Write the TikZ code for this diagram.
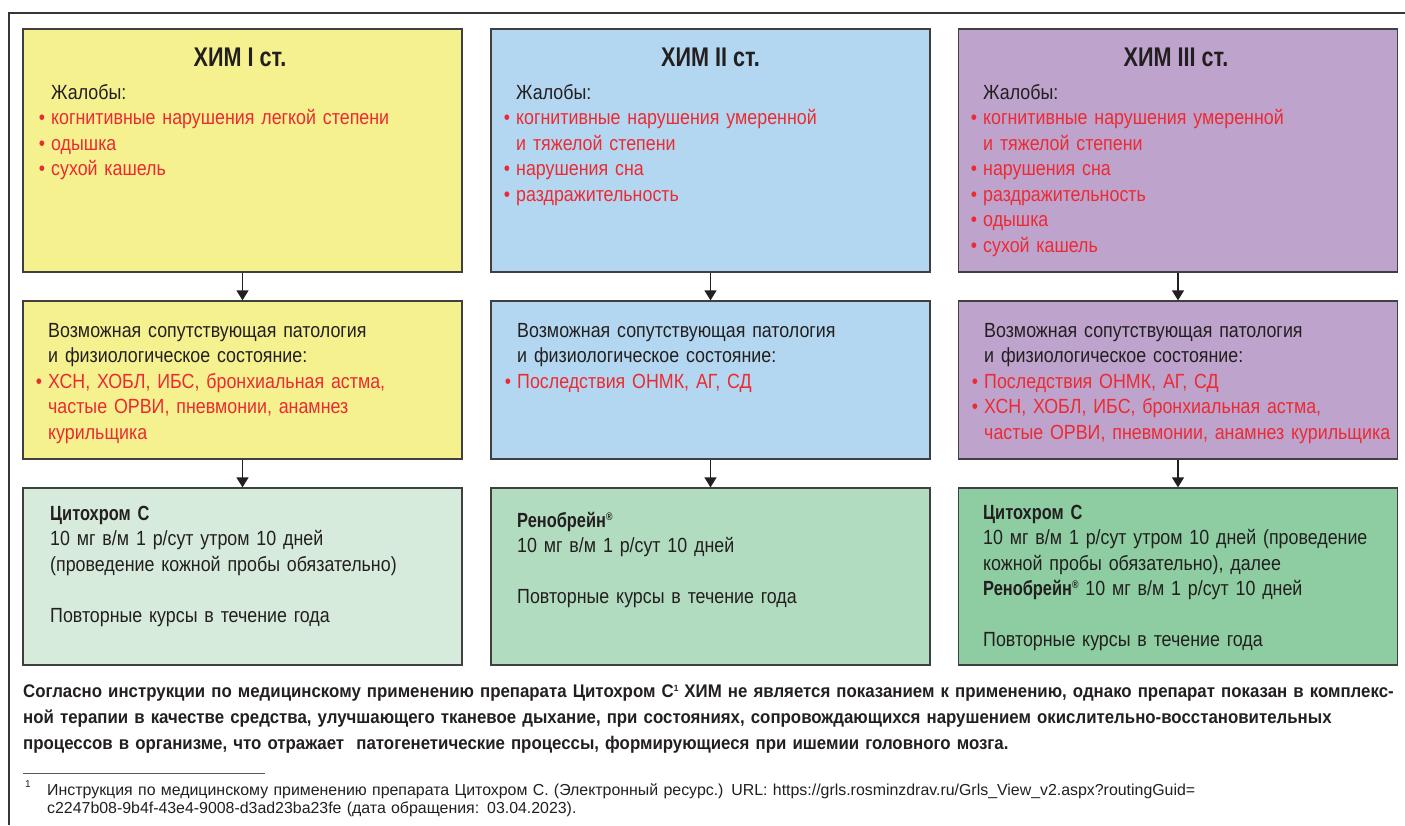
\documentclass[tikz,border=0pt]{standalone}
\usepackage{fontspec}
\setmainfont{Liberation Sans}[FakeStretch=0.87, BoldFeatures={FakeStretch=0.8}]
\newfontfamily\footfont{Liberation Sans}[FakeStretch=1.0, BoldFeatures={FakeStretch=0.92}]
\usetikzlibrary{arrows.meta}
\definecolor{cyel}{HTML}{F6F18F}
\definecolor{cblue}{HTML}{B3D7F0}
\definecolor{cpur}{HTML}{BEA3CD}
\definecolor{cgra}{HTML}{D7EBDC}
\definecolor{cgrb}{HTML}{B2DCC0}
\definecolor{cgrc}{HTML}{8DCDA1}
\definecolor{cred}{HTML}{EC2A33}
\definecolor{ctext}{HTML}{231F20}
\definecolor{cborder}{HTML}{404040}
\newcommand\redb[1]{\leavevmode\llap{\textcolor{cred}{•}\hspace{6pt}}\textcolor{cred}{#1}}
\newcommand\redc[1]{\textcolor{cred}{#1}}
\newcommand\regm{\raisebox{7pt}{\fontsize{11}{11}\selectfont ®}}
\tikzset{
  box/.style={draw=cborder, line width=1.3pt, inner sep=0pt, minimum width=439pt},
  txt/.style={anchor=base west, align=left, inner sep=0pt, text width=430pt,
    font=\fontsize{20.5}{25.5}\selectfont, text=ctext},
  ttl/.style={anchor=base, inner sep=0pt, font=\fontsize{27}{30}\selectfont\bfseries, text=ctext},
  arr/.style={-{Triangle[width=12pt,length=10pt]}, line width=1.4pt, draw=ctext},
  foot/.style={anchor=base west, align=left, inner sep=0pt, text width=1390pt, text=ctext},
}
\begin{document}
\begin{tikzpicture}[x=1pt,y=-1pt]
\useasboundingbox (0,0) rectangle (1405,825);
\fill[white] (0,0) rectangle (1405,825);
\draw[line width=2pt, draw=ctext!90] (9,825) -- (9,13) -- (1405,13);

% boxes
\node[box, fill=cyel,  minimum height=243pt] (b11) at (242.5,150.5) {};
\node[box, fill=cblue, minimum height=243pt] (b12) at (710.5,150.5) {};
\node[box, fill=cpur,  minimum height=243pt] (b13) at (1178,150.5) {};
\node[box, fill=cyel,  minimum height=158pt] (b21) at (242.5,380) {};
\node[box, fill=cblue, minimum height=158pt] (b22) at (710.5,380) {};
\node[box, fill=cpur,  minimum height=158pt] (b23) at (1178,380) {};
\node[box, fill=cgra,  minimum height=177pt] (b31) at (242.5,576.5) {};
\node[box, fill=cgrb,  minimum height=177pt] (b32) at (710.5,576.5) {};
\node[box, fill=cgrc,  minimum height=177pt] (b33) at (1178,576.5) {};

% arrows
\draw[arr] (b11.south) -- (b21.north);
\draw[arr] (b12.south) -- (b22.north);
\draw[arr] (b13.south) -- (b23.north);
\draw[arr] (b21.south) -- (b31.north);
\draw[arr] (b22.south) -- (b32.north);
\draw[arr] (b23.south) -- (b33.north);

% titles
\node[ttl] (t1) at (240,66) {ХИМ I ст.};
\node[ttl] (t2) at (710.5,66) {ХИМ II ст.};
\node[ttl] (t3) at (1176,66) {ХИМ III ст.};

% row 1
\node[txt] (c11) at (51,99) {Жалобы:\\
\redb{когнитивные нарушения легкой степени}\\
\redb{одышка}\\
\redb{сухой кашель}};
\node[txt] (c12) at (516,99) {Жалобы:\\
\redb{когнитивные нарушения умеренной}\\
\redc{и тяжелой степени}\\
\redb{нарушения сна}\\
\redb{раздражительность}};
\node[txt] (c13) at (983,99) {Жалобы:\\
\redb{когнитивные нарушения умеренной}\\
\redc{и тяжелой степени}\\
\redb{нарушения сна}\\
\redb{раздражительность}\\
\redb{одышка}\\
\redb{сухой кашель}};

% row 2
\node[txt] (c21) at (48,337) {Возможная сопутствующая патология\\
и физиологическое состояние:\\
\redb{ХСН, ХОБЛ, ИБС, бронхиальная астма,}\\
\redc{частые ОРВИ, пневмонии, анамнез}\\
\redc{курильщика}};
\node[txt] (c22) at (517,337) {Возможная сопутствующая патология\\
и физиологическое состояние:\\
\redb{Последствия ОНМК, АГ, СД}};
\node[txt] (c23) at (984,337) {Возможная сопутствующая патология\\
и физиологическое состояние:\\
\redb{Последствия ОНМК, АГ, СД}\\
\redb{ХСН, ХОБЛ, ИБС, бронхиальная астма,}\\
\redc{частые ОРВИ, пневмонии, анамнез курильщика}};

% row 3
\node[txt] (c31) at (50,520) {\textbf{Цитохром С}\\
10 мг в/м 1 р/сут утром 10 дней\\
(проведение кожной пробы обязательно)\\[25.5pt]
Повторные курсы в течение года};
\node[txt] (c32) at (517,527) {\textbf{Ренобрейн\regm}\\
10 мг в/м 1 р/сут 10 дней\\[25.5pt]
Повторные курсы в течение года};
\node[txt] (c33) at (983,519) {\textbf{Цитохром С}\\
10 мг в/м 1 р/сут утром 10 дней (проведение\\
кожной пробы обязательно), далее\\
\textbf{Ренобрейн\regm} 10 мг в/м 1 р/сут 10 дней\\[25.5pt]
Повторные курсы в течение года};

% footer
\node[foot, font=\footfont\fontsize{18.3}{26}\selectfont\bfseries] (note) at (23,697) {Согласно инструкции по медицинскому применению препарата Цитохром С\raisebox{6pt}{\fontsize{9}{9}\selectfont 1} ХИМ не является показанием к применению, однако препарат показан в комплекс-\\
{\addfontfeature{FakeStretch=1.0}ной терапии в качестве средства, улучшающего тканевое дыхание, при состояниях, сопровождающихся нарушением окислительно-восстановительных}\\
процессов в организме, что отражает\ \ патогенетические процессы, формирующиеся при ишемии головного мозга.};

\coordinate (r1) at (23,773);
\coordinate (r2) at (265,773);
\draw[line width=0.8pt, draw=ctext!75] (r1) -- (r2);
\node[anchor=base west, inner sep=0pt, font=\footfont\fontsize{10}{12}\selectfont, text=ctext] (fm) at (25,787) {1};
\node[foot, font=\footfont\fontsize{15.9}{18}\selectfont] (fn) at (47,795) {Инструкция по медицинскому применению препарата Цитохром С. (Электронный ресурс.) URL: https://grls.rosminzdrav.ru/Grls\_View\_v2.aspx?routingGuid=\\
c2247b08-9b4f-43e4-9008-d3ad23ba23fe (дата обращения: 03.04.2023).};
\end{tikzpicture}
\end{document}
